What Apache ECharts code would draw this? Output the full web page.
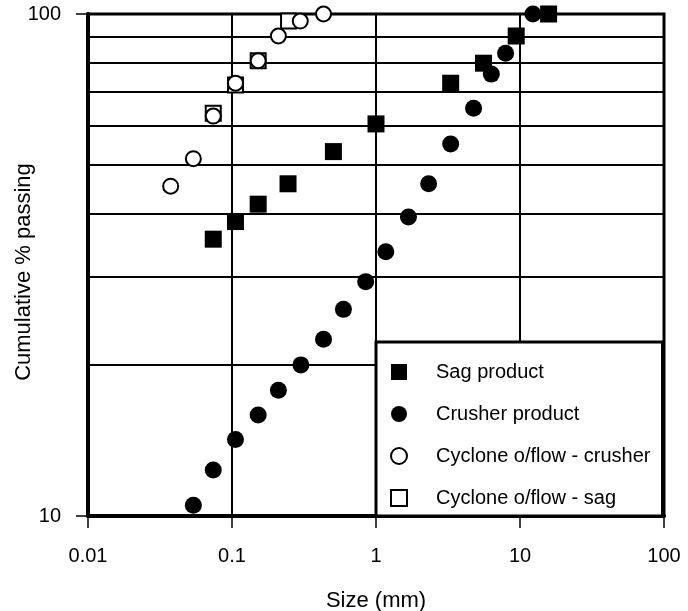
<!DOCTYPE html>
<html>
<head>
<meta charset="utf-8">
<script src="https://cdn.jsdelivr.net/npm/echarts@6/dist/echarts.min.js"></script>
<style>html,body{margin:0;padding:0;background:#fff;}#c{width:688px;height:611px;}</style>
</head>
<body>
<div id="c"></div>
<script>
const seriesNames = ['Sag product', 'Crusher product', 'Cyclone o/flow - crusher', 'Cyclone o/flow - sag'];
const sagX = [0.0741, 0.1057, 0.152, 0.245, 0.506, 1.0, 3.30, 5.58, 9.41, 15.8];
const sagY = [35.6, 38.6, 41.8, 45.9, 53.2, 60.4, 72.8, 79.8, 90.4, 100];
const crusherX = [0.0539, 0.0741, 0.1057, 0.152, 0.210, 0.301, 0.432, 0.594, 0.848, 1.17, 1.68, 2.32, 3.30, 4.76, 6.32, 7.94, 12.3];
const crusherY = [10.5, 12.35, 14.2, 15.9, 17.8, 20.0, 22.5, 25.8, 29.3, 33.6, 39.4, 45.9, 55.1, 64.9, 75.9, 83.5, 100];
const cycCrusherX = [0.0375, 0.0539, 0.0741, 0.1057, 0.152, 0.210, 0.298, 0.432];
const cycCrusherY = [45.4, 51.5, 62.6, 72.8, 80.7, 90.4, 96.8, 100];
const cycSagX = [0.0741, 0.1057, 0.152, 0.247];
const cycSagY = [63.4, 72.2, 80.7, 96.8];
const xTickLabels = ['0.01', '0.1', '1', '10', '100'];
const yTickLabels = ['10', '100'];
const yGridValues = [20, 30, 40, 50, 60, 70, 80, 90];

const FONT = "'Liberation Sans', Arial, sans-serif";
const pairs = (xs, ys) => xs.map((x, i) => [x, ys[i]]);

const chart = echarts.init(document.getElementById('c'), null, {renderer: 'canvas'});
chart.setOption({
  backgroundColor: '#fff',
  animation: false,
  textStyle: {fontFamily: FONT, color: '#000'},
  grid: {left: 88, right: 24, top: 14, bottom: 95, containLabel: false, outerBoundsMode: 'none',
    show: true, borderColor: '#000', borderWidth: 3, backgroundColor: 'transparent'},
  legend: {
    orient: 'vertical',
    left: 376, top: 342,
    data: seriesNames,
    itemWidth: 16, itemHeight: 16,
    itemGap: 22,
    padding: [20, 12, 8, 14],
    borderColor: '#000', borderWidth: 3,
    backgroundColor: '#fff',
    selectedMode: false,
    textStyle: {fontFamily: FONT, fontSize: 20, color: '#000', padding: [4, 0, 0, 24]}
  },
  xAxis: {
    type: 'log', logBase: 10, min: 0.01, max: 100,
    name: 'Size (mm)', nameLocation: 'middle', nameGap: 74, nameMoveOverlap: false,
    nameTextStyle: {fontFamily: FONT, fontSize: 22, color: '#000'},
    axisLine: {lineStyle: {color: '#000', width: 4}},
    axisTick: {show: true, inside: false, length: 12, lineStyle: {color: '#000', width: 1.5}},
    axisLabel: {fontFamily: FONT, fontSize: 20, color: '#000', margin: 30,
      formatter: (v, i) => xTickLabels[i] !== undefined ? xTickLabels[i] : ''},
    splitLine: {show: true, lineStyle: {color: '#000', width: 2}},
    minorTick: {show: false}
  },
  yAxis: {
    type: 'log', logBase: 10, min: 10, max: 100,
    name: 'Cumulative % passing', nameLocation: 'middle', nameGap: 53, nameMoveOverlap: false,
    nameTextStyle: {fontFamily: FONT, fontSize: 22, color: '#000', padding: [0, 14, 0, 0]},
    axisLine: {lineStyle: {color: '#000', width: 4}},
    axisTick: {show: true, inside: false, length: 12, lineStyle: {color: '#000', width: 1.5}},
    axisLabel: {fontFamily: FONT, fontSize: 20, color: '#000', margin: 27, padding: [8, 0, 0, 0],
      formatter: (v, i) => yTickLabels[i] !== undefined ? yTickLabels[i] : ''},
    splitLine: {show: false}
  },
  series: [
    {
      name: 'grid', type: 'scatter', data: [], z: 1, silent: true,
      markLine: {
        z: 1, silent: true, symbol: ['none', 'none'], animation: false,
        label: {show: false},
        lineStyle: {color: '#000', width: 2, type: 'solid'},
        emphasis: {disabled: true},
        data: yGridValues.map(v => ({yAxis: v}))
      }
    },
    {
      name: seriesNames[0], type: 'scatter', symbol: 'rect', symbolSize: 17, z: 3, clip: false,
      itemStyle: {color: '#000', opacity: 1},
      data: pairs(sagX, sagY)
    },
    {
      name: seriesNames[1], type: 'scatter', symbol: 'circle', symbolSize: 17, z: 3, clip: false,
      itemStyle: {color: '#000', opacity: 1},
      data: pairs(crusherX, crusherY)
    },
    {
      name: seriesNames[3], type: 'scatter', symbol: 'rect', symbolSize: 15, z: 3, clip: false,
      itemStyle: {color: '#fff', borderColor: '#000', borderWidth: 2, opacity: 1},
      data: pairs(cycSagX, cycSagY)
    },
    {
      name: seriesNames[2], type: 'scatter', symbol: 'circle', symbolSize: 15, z: 4, clip: false,
      itemStyle: {color: '#fff', borderColor: '#000', borderWidth: 2, opacity: 1},
      data: pairs(cycCrusherX, cycCrusherY)
    }
  ]
});
</script>
</body>
</html>
